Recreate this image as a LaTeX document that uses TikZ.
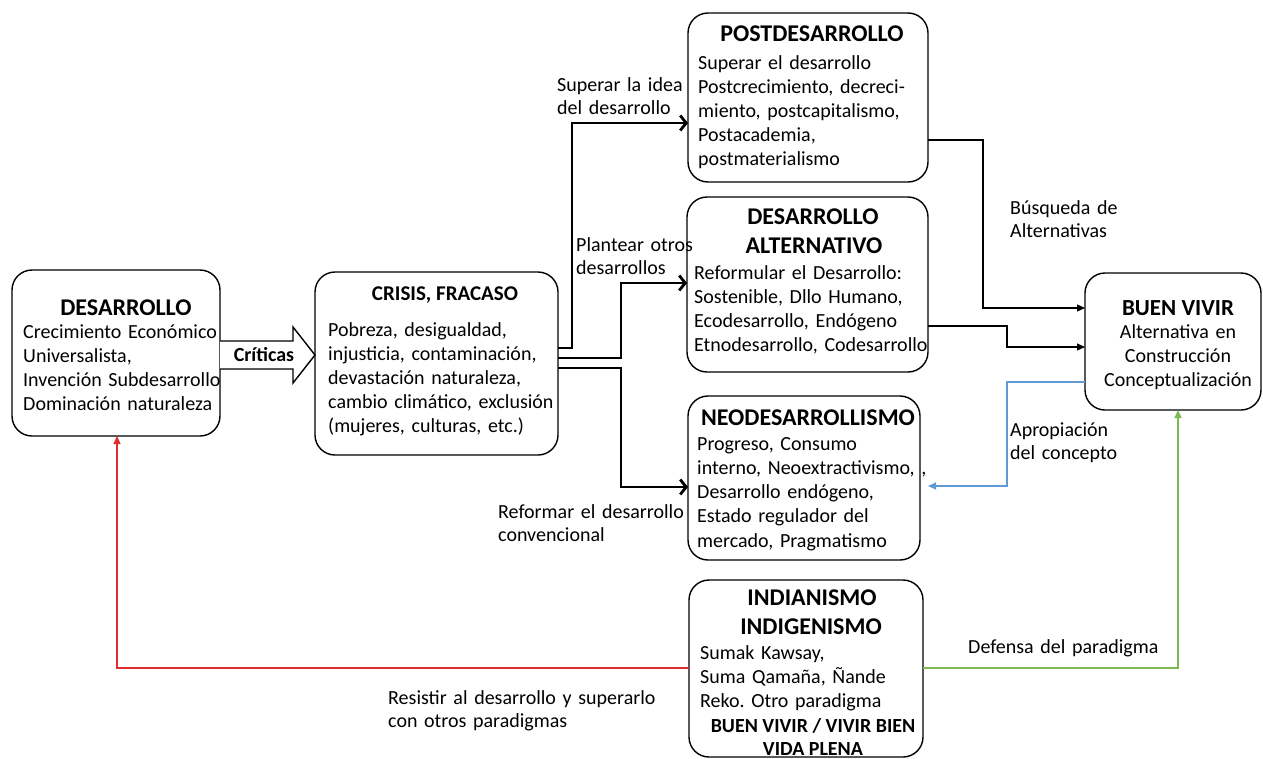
\documentclass[tikz,border=0pt]{standalone}
\usepackage{fontspec}
\setmainfont{Carlito}
\usetikzlibrary{arrows.meta,calc}
\definecolor{cred}{RGB}{225,45,45}
\definecolor{cblue}{RGB}{95,155,210}
\definecolor{cgreen}{RGB}{125,185,80}
\frenchspacing
\tikzset{
  box/.style={draw, line width=1.4pt, rounded corners=20pt, inner sep=0pt, outer sep=0pt, anchor=north west},
  ttl/.style={font=\fontsize{24}{28}\selectfont\bfseries, inner sep=0pt, anchor=base},
  sttl/.style={font=\fontsize{20}{24}\selectfont\bfseries, inner sep=0pt, anchor=base},
  body/.style={font=\fontsize{20}{24}\selectfont, inner sep=0pt, anchor=base west, align=left, text width=#1},
  body/.default=250pt,
  lbl/.style={font=\fontsize{20}{23}\selectfont, inner sep=0pt, anchor=base west, align=left, text width=#1},
  lbl/.default=300pt,
  conn/.style={line width=2.8pt, -{Straight Barb[length=6pt,width=15pt]}},
  thinarr/.style={line width=1.2pt, -{Triangle[length=8pt,width=7pt]}},
}
\begin{document}
\begin{tikzpicture}[x=1pt,y=-1pt]
\useasboundingbox (0,0) rectangle (1263,758);

% boxes
\node[box, minimum width=208pt, minimum height=166pt] (des) at (12,270) {};
\node[box, minimum width=243pt, minimum height=183pt] (cri) at (315,272) {};
\node[box, minimum width=240pt, minimum height=169pt] (post) at (688,13) {};
\node[box, minimum width=241pt, minimum height=175pt] (alt) at (687,197) {};
\node[box, minimum width=232pt, minimum height=164pt] (neo) at (688,396) {};
\node[box, minimum width=234pt, minimum height=177pt] (indi) at (689,580) {};
\node[box, minimum width=176pt, minimum height=137pt] (bv) at (1085,273) {};

% DESARROLLO
\node[ttl] (desT) at (126,315) {DESARROLLO};
\node[body=200pt] (desB) at (23,338) {Crecimiento Económico\\Universalista,\\Invención Subdesarrollo\\Dominación naturaleza};

% CRISIS
\node[ttl, font=\fontsize{21}{24}\selectfont\bfseries] (criT) at (445,300) {CRISIS, FRACASO};
\node[body=235pt] (criB) at (328,336) {Pobreza, desigualdad,\\injusticia, contaminación,\\devastación naturaleza,\\cambio climático, exclusión\\(mujeres, culturas, etc.)};

% POSTDESARROLLO
\node[ttl] (postT) at (812,41) {POSTDESARROLLO};
\node[body=235pt] (postB) at (698,69) {Superar el desarrollo\\Postcrecimiento, decreci-\\miento, postcapitalismo,\\Postacademia,\\postmaterialismo};

% DESARROLLO ALTERNATIVO
\node[ttl] (altT1) at (813,224) {DESARROLLO};
\node[ttl] (altT2) at (814,253) {ALTERNATIVO};
\node[body=240pt] (altB) at (694,279) {Reformular el Desarrollo:\\Sostenible, Dllo Humano,\\Ecodesarrollo, Endógeno\\Etnodesarrollo, Codesarrollo};

% NEODESARROLLISMO
\node[ttl] (neoT) at (808,425) {NEODESARROLLISMO};
\node[body=235pt, font=\fontsize{20}{24.3}\selectfont] (neoB) at (697,450) {Progreso, Consumo\\interno, Neoextractivismo, ,\\Desarrollo endógeno,\\Estado regulador del\\mercado, Pragmatismo};

% INDIANISMO
\node[ttl] (indT1) at (812,605) {INDIANISMO};
\node[ttl] (indT2) at (811,634) {INDIGENISMO};
\node[body=225pt] (indB) at (700,659) {Sumak Kawsay,\\Suma Qamaña, Ñande\\Reko. Otro paradigma};
\node[sttl] (indT3) at (813,732) {BUEN VIVIR / VIVIR BIEN};
\node[sttl] (indT4) at (813,755) {VIDA PLENA};

% BUEN VIVIR
\node[ttl, font=\fontsize{23}{28}\selectfont\bfseries] (bvT) at (1178,315) {BUEN VIVIR};
\node[body=176pt, align=center, anchor=base] (bvB) at (1178,338) {Alternativa en\\Construcción\\Conceptualización};

% Criticas block arrow
\draw[line width=1.4pt, fill=white] (des.east |- 0,341) -- (293,341) -- (293,327)
  -- (cri.west |- 0,355) -- (293,383) -- (293,369) -- (des.east |- 0,369);
\node[font=\fontsize{20}{24}\selectfont\bfseries, inner sep=0pt] (crit) at (264,355) {Críticas};

% thick connectors from CRISIS
\draw[conn] (cri.east |- 0,348) -| (572,123) -- (post.west |- 0,123);
\draw[conn] (cri.east |- 0,358) -| (621,283) -- (alt.west |- 0,283);
\draw[conn] (cri.east |- 0,368) -| (621,487) -- (neo.west |- 0,487);

% thin connectors to BUEN VIVIR
\draw[thinarr] (post.east |- 0,140) -| (983,308) -- (bv.west |- 0,308);
\draw[thinarr] (alt.east |- 0,326) -| (1007,347) -- (bv.west |- 0,347);
\coordinate (blueEnd) at ($(neo.east |- 0,486)+(8,0)$);
\draw[thinarr, cblue] (bv.west |- 0,382) -| (1007,486) -- (blueEnd);
\draw[thinarr, cgreen] (indi.east |- 0,668) -| (1178,0 |- bv.south);
\draw[thinarr, cred] (indi.west |- 0,668) -| (117,0 |- des.south);

% labels
\node[lbl] (l1) at (557,91) {Superar la idea\\del desarrollo};
\node[lbl] (l2) at (576,251) {Plantear otros\\desarrollos};
\node[lbl] (l3) at (498,518) {Reformar el desarrollo\\convencional};
\node[lbl] (l4) at (1010,214) {Búsqueda de\\Alternativas};
\node[lbl] (l5) at (1010,436) {Apropiación\\del concepto};
\node[lbl] (l6) at (968,653) {Defensa del paradigma};
\node[lbl] (l7) at (388,704) {Resistir al desarrollo y superarlo\\con otros paradigmas};
\end{tikzpicture}
\end{document}
